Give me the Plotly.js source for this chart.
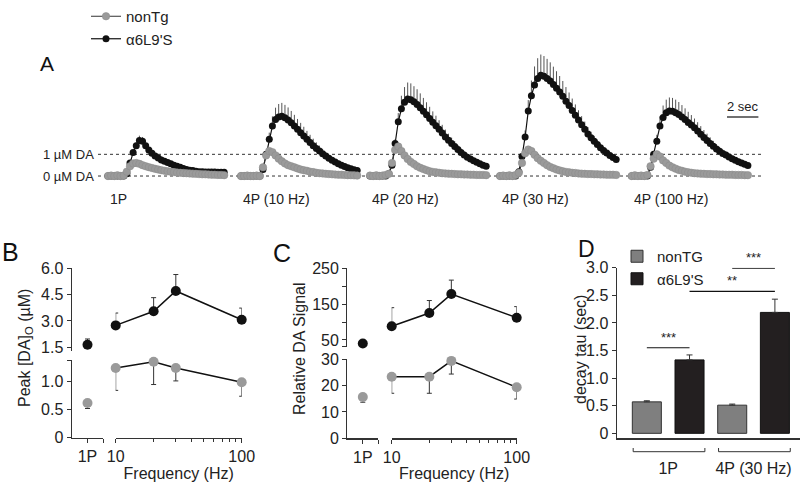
<!DOCTYPE html>
<html lang="en">
<head>
  <meta charset="UTF-8">
  <title>DA release figure</title>
  <script src="https://cdn.plot.ly/plotly-3.0.1.min.js"></script>
  <style>
    body { margin: 0; background: #fff; }
    #chart { width: 800px; height: 482px; }
  </style>
</head>
<body>
  <div id="chart"></div>
  <script>
    // ---- panel A: DA traces (uM), one sample every 0.2 s ----
    const time = [0, 0.2, 0.4, 0.6, 0.8, 1.0, 1.2, 1.4, 1.6, 1.8, 2.0, 2.2, 2.4, 2.6, 2.8, 3.0, 3.2, 3.4, 3.6,
      3.8, 4.0, 4.2, 4.4, 4.6, 4.8, 5.0, 5.2, 5.4, 5.6, 5.8, 6.0, 6.2, 6.4, 6.6, 6.8, 7.0, 7.2, 7.4];
    const segLabels = ['1P', '4P (10 Hz)', '4P (20 Hz)', '4P (30 Hz)', '4P (100 Hz)'];

    const wt1P = [0, 0.02, 0, 0.03, 0, 0.02, 0.2, 0.45, 0.58, 0.6, 0.56, 0.5, 0.45, 0.41, 0.37, 0.33, 0.3, 0.27, 0.24,
      0.22, 0.2, 0.18, 0.16, 0.15, 0.14, 0.13, 0.12, 0.11, 0.1, 0.09, 0.08, 0.08, 0.07, 0.06, 0.06, 0.05, 0.05, 0.04];
    const wt10 = [0, 0, 0.02, 0, 0, 0.02, 0, 0.4, 0.95, 1.15, 1.1, 0.95, 0.8, 0.68, 0.58, 0.5, 0.45, 0.4, 0.35,
      0.3, 0.27, 0.24, 0.2, 0.18, 0.15, 0.13, 0.12, 0.1, 0.09, 0.08, 0.07, 0.06, 0.06, 0.05, 0.04, 0.04, 0.03, 0.02];
    const wt20 = [0.02, 0, 0.03, 0, 0.02, 0.05, 0.1, 0.6, 1.2, 1.36, 1.15, 0.95, 0.78, 0.65, 0.55, 0.45, 0.38, 0.32, 0.27,
      0.22, 0.19, 0.17, 0.15, 0.13, 0.12, 0.11, 0.1, 0.09, 0.08, 0.08, 0.07, 0.07, 0.06, 0.06, 0.05, 0.05, 0.05, 0.04];
    const wt30 = [0, 0.02, 0, 0.03, 0, 0.05, 0.15, 0.6, 1.05, 1.22, 1.15, 0.98, 0.82, 0.7, 0.6, 0.5, 0.42, 0.36, 0.3,
      0.26, 0.22, 0.19, 0.17, 0.15, 0.14, 0.12, 0.11, 0.1, 0.09, 0.09, 0.08, 0.08, 0.07, 0.07, 0.06, 0.06, 0.06, 0.05];
    const wt100 = [0, 0.03, 0, 0.02, 0, 0.05, 0.45, 0.8, 1.0, 0.9, 0.72, 0.6, 0.48, 0.4, 0.34, 0.28, 0.24, 0.2, 0.17,
      0.15, 0.13, 0.12, 0.11, 0.1, 0.09, 0.09, 0.08, 0.08, 0.07, 0.07, 0.06, 0.06, 0.06, 0.05, 0.05, 0.05, 0.04, 0.04];

    const mut1P = [0, 0, 0, 0, 0, 0, 0.1, 0.6, 1.08, 1.4, 1.64, 1.6, 1.4, 1.2, 1.05, 0.92, 0.83, 0.74, 0.68,
      0.62, 0.56, 0.5, 0.45, 0.4, 0.35, 0.3, 0.27, 0.25, 0.22, 0.2, 0.2, 0.19, 0.19, 0.18, 0.18, 0.17, 0.17, 0.17];
    const mut10 = [0, 0, 0, 0, 0, 0, 0, 0.3, 1.0, 1.7, 2.3, 2.6, 2.72, 2.75, 2.68, 2.58, 2.45, 2.3, 2.15,
      2.0, 1.85, 1.7, 1.55, 1.4, 1.27, 1.15, 1.03, 0.92, 0.82, 0.73, 0.65, 0.57, 0.5, 0.44, 0.38, 0.33, 0.29, 0.25];
    const mut20 = [0, 0, 0, 0, 0, 0, 0.1, 0.5, 1.5, 2.5, 3.1, 3.4, 3.55, 3.52, 3.42, 3.3, 3.15, 2.98, 2.82,
      2.65, 2.48, 2.32, 2.15, 1.98, 1.8, 1.65, 1.5, 1.36, 1.22, 1.08, 0.97, 0.87, 0.78, 0.7, 0.63, 0.56, 0.5, 0.45];
    const mut30 = [0, 0, 0, 0, 0, 0, 0.2, 0.9, 1.8, 3.0, 3.7, 4.2, 4.5, 4.65, 4.6, 4.5, 4.38, 4.22, 4.05,
      3.87, 3.68, 3.45, 3.25, 3.02, 2.8, 2.58, 2.36, 2.15, 1.94, 1.76, 1.6, 1.45, 1.3, 1.18, 1.06, 0.95, 0.85, 0.76];
    const mut100 = [0, 0, 0, 0, 0, 0, 0.4, 1.0, 1.6, 2.3, 2.7, 2.92, 3.0, 2.98, 2.92, 2.83, 2.72, 2.6, 2.47,
      2.35, 2.22, 2.08, 1.93, 1.78, 1.64, 1.5, 1.37, 1.25, 1.14, 1.04, 0.97, 0.88, 0.8, 0.73, 0.66, 0.6, 0.54, 0.48];

    // upward SEM of the α6L9'S traces
    const err1P = [0, 0, 0, 0, 0, 0, 0, 0, 0.08, 0.15, 0.22, 0.2, 0.12, 0.06, 0.04, 0.04, 0.04, 0.03, 0.03,
      0.03, 0.02, 0, 0, 0, 0, 0, 0, 0, 0, 0, 0, 0, 0, 0, 0, 0, 0, 0];
    const err10 = [0, 0, 0, 0, 0, 0, 0, 0, 0.1, 0.3, 0.45, 0.55, 0.6, 0.62, 0.6, 0.58, 0.55, 0.52, 0.48,
      0.45, 0.42, 0.38, 0.35, 0.32, 0.28, 0.25, 0.22, 0.18, 0.15, 0.12, 0.1, 0.08, 0.07, 0.06, 0.05, 0.05, 0.04, 0.04];
    const err20 = [0, 0, 0, 0, 0, 0, 0, 0, 0.2, 0.4, 0.6, 0.7, 0.76, 0.75, 0.72, 0.7, 0.66, 0.62, 0.58,
      0.54, 0.5, 0.46, 0.42, 0.38, 0.34, 0.3, 0.27, 0.24, 0.21, 0.18, 0.16, 0.14, 0.12, 0.1, 0.09, 0.08, 0.07, 0.06];
    const err30 = [0, 0, 0, 0, 0, 0, 0, 0, 0.3, 0.5, 0.7, 0.85, 0.93, 0.95, 0.93, 0.9, 0.86, 0.82, 0.78,
      0.74, 0.7, 0.65, 0.6, 0.55, 0.5, 0.45, 0.4, 0.36, 0.32, 0.28, 0.25, 0.22, 0.19, 0.16, 0.14, 0.12, 0.1, 0.08];
    const err100 = [0, 0, 0, 0, 0, 0, 0, 0, 0.3, 0.45, 0.55, 0.6, 0.62, 0.62, 0.6, 0.58, 0.55, 0.52, 0.49,
      0.46, 0.43, 0.4, 0.37, 0.34, 0.31, 0.28, 0.25, 0.22, 0.2, 0.18, 0.16, 0.14, 0.12, 0.1, 0.09, 0.08, 0.07, 0.06];

    // ---- panel B: peak [DA]o (uM) ----
    const freqs = [10, 20, 30, 100];
    const peakWt1P = [0.62], peakWt1PErr = [0.1];
    const peakMut1P = [1.65], peakMut1PErr = [0.33];
    const peakWt = [1.245, 1.36, 1.245, 0.99], peakWtErr = [0.4, 0.41, 0.23, 0.25];
    const peakMut = [2.75, 3.55, 4.7, 3.07], peakMutErr = [0.7, 0.77, 0.93, 0.66];

    // ---- panel C: relative DA signal ----
    const relWt1P = [15.7], relWt1PErr = [2];
    const relMut1P = [40], relMut1PErr = [0];
    const relWt = [23.4, 23.4, 29.4, 19.4], relWtErr = [6.3, 6.3, 5, 4.5];
    const relMut = [88, 125, 178, 112], relMutErr = [52, 35, 39, 31];

    // ---- panel D: decay tau (sec) ----
    const tauGroups = ['1P', '4P (30 Hz)'];
    const tauWt = [0.57, 0.51], tauWtErr = [0.02, 0.02];
    const tauMut = [1.33, 2.19], tauMutErr = [0.09, 0.24];

    const W = 800, H = 482;
    const X = px => px / W;
    const Y = py => 1 - py / H;
    const FONT = 'Liberation Sans, Arial, sans-serif';
    const INK = '#222';
    const GREY = '#9a9a9a';
    const zeros = a => a.map(() => 0);

    const traces = [];
    const layout = {
      width: W, height: H,
      margin: { l: 0, r: 0, t: 0, b: 0 },
      paper_bgcolor: '#fff', plot_bgcolor: 'rgba(0,0,0,0)',
      font: { family: FONT, size: 14, color: INK },
      showlegend: true,
      bargap: 0, bargroupgap: 0.32,
      shapes: [], annotations: []
    };

    // panel A: one x axis per stimulation, sharing the uM axis
    const segStart = [108, 241, 370, 500, 631.7];
    const pxPerSec = 15.7;
    const wtSegs = [wt1P, wt10, wt20, wt30, wt100];
    const mutSegs = [mut1P, mut10, mut20, mut30, mut100];
    const errSegs = [err1P, err10, err20, err30, err100];
    segStart.forEach((x0, s) => {
      const ax = s === 0 ? 'xaxis' : 'xaxis' + (s + 1);
      const xr = s === 0 ? 'x' : 'x' + (s + 1);
      layout[ax] = {
        domain: [X(x0 - 0.3 * pxPerSec), X(x0 + 7.7 * pxPerSec)],
        range: [-0.3, 7.7], anchor: 'y', visible: false, fixedrange: true
      };
      traces.push({
        x: time, y: mutSegs[s], xaxis: xr, yaxis: 'y', type: 'scatter', mode: 'lines+markers',
        name: "α6L9'S", legendgroup: 'mut', legendrank: 2, showlegend: s === 0, legend: 'legend',
        line: { color: '#111', width: 1.2 },
        marker: { color: '#111', size: 7 },
        error_y: { type: 'data', symmetric: false, array: errSegs[s], arrayminus: zeros(errSegs[s]),
          color: '#555', thickness: 1, width: 0 },
        cliponaxis: false
      });
      traces.push({
        x: time, y: wtSegs[s], xaxis: xr, yaxis: 'y', type: 'scatter', mode: 'lines+markers',
        name: 'nonTg', legendgroup: 'wt', legendrank: 1, showlegend: s === 0, legend: 'legend',
        line: { color: '#333', width: 1 },
        marker: { color: GREY, size: 7.5, line: { color: '#8a8a8a', width: 0.5 } },
        cliponaxis: false
      });
      layout.annotations.push({
        xref: xr, yref: 'paper', x: 0, y: Y(199), xanchor: 'left', yanchor: 'middle',
        text: segLabels[s], showarrow: false, font: { size: 14 }
      });
    });
    layout.yaxis = { domain: [Y(184.7), Y(41.5)], range: [-0.4, 6.2], anchor: 'x', visible: false };

    [1, 0].forEach(v => {
      layout.shapes.push({ type: 'line', xref: 'paper', yref: 'y', x0: X(98), x1: X(763), y0: v, y1: v,
        line: { color: '#333', width: 1, dash: 'dot' }, layer: 'below' });
      layout.annotations.push({ xref: 'paper', yref: 'y', x: X(96), y: v, xanchor: 'right', yanchor: 'middle',
        text: v + ' µM DA', showarrow: false, font: { size: 13 } });
    });
    // 2 sec scale bar
    layout.shapes.push({ type: 'line', xref: 'paper', yref: 'paper', x0: X(727), x1: X(727 + 2 * pxPerSec),
      y0: Y(117), y1: Y(117), line: { color: '#111', width: 1.2 } });
    layout.annotations.push({ xref: 'paper', yref: 'paper', x: X(742.7), y: Y(116), xanchor: 'center',
      yanchor: 'bottom', text: '2 sec', showarrow: false, font: { size: 13 } });

    // shared axis styles for B, C, D
    const axLine = { showline: true, linecolor: '#333', linewidth: 1.2, showgrid: false, zeroline: false,
      ticks: 'outside', ticklen: 4, tickwidth: 1, tickcolor: '#333', fixedrange: true,
      tickfont: { size: 16, color: INK } };

    function pointTraces(xa1P, xaF, yUp, yLo, mut1P_, mut1PErr, mutF, mutFErr, wt1P_, wt1PErr, wtF, wtFErr) {
      const common = { type: 'scatter', showlegend: false, cliponaxis: false };
      const up = (arr) => ({ type: 'data', symmetric: false, array: arr, arrayminus: zeros(arr),
        color: '#333', thickness: 1, width: 2.5 });
      const down = (arr) => ({ type: 'data', symmetric: false, array: zeros(arr), arrayminus: arr,
        color: '#333', thickness: 1, width: 2.5 });
      traces.push(Object.assign({ x: [1], y: mut1P_, xaxis: xa1P, yaxis: yUp, mode: 'markers',
        marker: { color: '#111', size: 10 }, error_y: up(mut1PErr) }, common));
      traces.push(Object.assign({ x: freqs, y: mutF, xaxis: xaF, yaxis: yUp, mode: 'lines+markers',
        line: { color: '#111', width: 1.5 }, marker: { color: '#111', size: 10 }, error_y: up(mutFErr) }, common));
      traces.push(Object.assign({ x: [1], y: wt1P_, xaxis: xa1P, yaxis: yLo, mode: 'markers',
        marker: { color: GREY, size: 10 }, error_y: down(wt1PErr) }, common));
      traces.push(Object.assign({ x: freqs, y: wtF, xaxis: xaF, yaxis: yLo, mode: 'lines+markers',
        line: { color: '#111', width: 1.5 }, marker: { color: GREY, size: 10 }, error_y: down(wtFErr) }, common));
    }

    function freqAxes(n1P, nLog, yLoName, left1P, right1P, leftLog, rightLog) {
      layout['xaxis' + n1P] = Object.assign({}, axLine, {
        domain: [X(left1P), X(right1P)], range: [0, 2], anchor: yLoName,
        tickvals: [1, 2], ticktext: ['1P', ' ']
      });
      layout['xaxis' + nLog] = Object.assign({}, axLine, {
        type: 'log', domain: [X(leftLog), X(rightLog)], range: [1, 2], anchor: yLoName,
        tickvals: [10, 100], ticktext: ['10', '100'], ticklen: 4,
        minor: { tickmode: 'array', tickvals: [20, 30, 40, 50, 60, 70, 80, 90], ticks: 'outside',
          ticklen: 3, tickcolor: '#333' },
        title: { text: 'Frequency (Hz)', font: { size: 16 }, standoff: 0 }
      });
    }

    // panel B
    pointTraces('x6', 'x7', 'y2', 'y3', peakMut1P, peakMut1PErr, peakMut, peakMutErr,
      peakWt1P, peakWt1PErr, peakWt, peakWtErr);
    freqAxes(6, 7, 'y3', 71.7, 103.3, 115.7, 241.7);
    layout.yaxis2 = Object.assign({}, axLine, { domain: [Y(351), Y(268)], range: [1.3, 6.0], anchor: 'x6',
      tickvals: [1.5, 3.0, 4.5, 6.0], ticktext: ['1.5', '3.0', '4.5', '6.0'] });
    layout.yaxis3 = Object.assign({}, axLine, { domain: [Y(437.5), Y(360)], range: [0, 1.39], anchor: 'x6',
      tickvals: [0, 0.5, 1.0, 1.39], ticktext: ['0', '0.5', '1.0', ' '] });

    // panel C
    pointTraces('x8', 'x9', 'y4', 'y5', relMut1P, relMut1PErr, relMut, relMutErr,
      relWt1P, relWt1PErr, relWt, relWtErr);
    freqAxes(8, 9, 'y5', 347.3, 378.3, 391.7, 516.7);
    layout.yaxis4 = Object.assign({}, axLine, { domain: [Y(346.7), Y(268.3)], range: [31, 250], anchor: 'x8',
      tickvals: [31, 50, 100, 150, 200, 250], ticktext: [' ', '50', ' ', '150', ' ', '250'] });
    layout.yaxis5 = Object.assign({}, axLine, { domain: [Y(438.3), Y(359.3)], range: [0, 30], anchor: 'x8',
      tickvals: [0, 10, 20, 30] });

    // panel D
    traces.push({
      type: 'bar', x: tauGroups, y: tauWt, xaxis: 'x10', yaxis: 'y6', name: 'nonTG', legend: 'legend2',
      marker: { color: '#7f7f7f', line: { color: '#333', width: 1 } },
      error_y: { type: 'data', symmetric: false, array: tauWtErr, arrayminus: zeros(tauWtErr),
        color: '#333', thickness: 1, width: 3 }
    });
    traces.push({
      type: 'bar', x: tauGroups, y: tauMut, xaxis: 'x10', yaxis: 'y6', name: "α6L9'S", legend: 'legend2',
      marker: { color: '#231f20', line: { color: '#111', width: 1 } },
      error_y: { type: 'data', symmetric: false, array: tauMutErr, arrayminus: zeros(tauMutErr),
        color: '#333', thickness: 1, width: 3 }
    });
    layout.xaxis10 = Object.assign({}, axLine, { domain: [X(616.7), X(800)], range: [-0.603, 1.544],
      anchor: 'y6', ticks: '', ticklabelstandoff: 15 });
    layout.yaxis6 = Object.assign({}, axLine, { domain: [Y(438.3), Y(267.7)], range: [-0.09, 3.0], anchor: 'x10',
      tickvals: [0, 0.5, 1.0, 1.5, 2.0, 2.5, 3.0], ticktext: ['0', '0.5', '1.0', '1.5', '2.0', '2.5', '3.0'] });
    // group brackets under the bars
    tauGroups.forEach((g, i) => {
      const b = { xref: 'x10', yref: 'paper', line: { color: '#333', width: 1 } };
      layout.shapes.push(Object.assign({ type: 'line', x0: i - 0.41, x1: i + 0.43, y0: Y(451.7), y1: Y(451.7) }, b));
      layout.shapes.push(Object.assign({ type: 'line', x0: i - 0.41, x1: i - 0.41, y0: Y(451.7), y1: Y(448) }, b));
      layout.shapes.push(Object.assign({ type: 'line', x0: i + 0.43, x1: i + 0.43, y0: Y(451.7), y1: Y(448) }, b));
    });
    // significance bars
    [[-0.25, 0.25, 1.55, '***'], [0.25, 1.25, 2.57, '**'], [0.75, 1.25, 2.99, '***']].forEach(([a, b, yv, t]) => {
      layout.shapes.push({ type: 'line', xref: 'x10', yref: 'y6', x0: a, x1: b, y0: yv, y1: yv,
        line: { color: '#111', width: 1.2 } });
      layout.annotations.push({ xref: 'x10', yref: 'y6', x: (a + b) / 2, y: yv, yanchor: 'bottom', yshift: 1,
        text: t, showarrow: false, font: { size: 13 } });
    });

    // legends
    layout.legend = { x: X(86), y: 1, xanchor: 'left', yanchor: 'top', bgcolor: 'rgba(0,0,0,0)',
      font: { size: 15 }, tracegroupgap: 3, itemwidth: 30, traceorder: 'normal' };
    layout.legend2 = { x: X(617), y: Y(240), xanchor: 'left', yanchor: 'top', bgcolor: 'rgba(0,0,0,0)',
      font: { size: 15 }, itemwidth: 30, traceorder: 'normal' };

    // panel letters and rotated y titles
    [['A', 38, 64, 21], ['B', 0, 252, 25], ['C', 271, 253, 25], ['D', 576, 249, 23]].forEach(([t, x, y, s]) => {
      layout.annotations.push({ xref: 'paper', yref: 'paper', x: X(x), y: Y(y), xanchor: 'left', yanchor: 'middle',
        text: t, showarrow: false, font: { size: s, color: '#111' } });
    });
    [['Peak [DA]<sub>O</sub> (µM)', 25, 348], ['Relative DA Signal', 299, 349], ['decay tau (sec)', 580, 350]]
      .forEach(([t, x, y]) => {
        layout.annotations.push({ xref: 'paper', yref: 'paper', x: X(x), y: Y(y), xanchor: 'center',
          yanchor: 'middle', textangle: -90, text: t, showarrow: false, font: { size: 16 } });
      });

    Plotly.newPlot('chart', traces, layout, { displayModeBar: false, staticPlot: true });
  </script>
</body>
</html>
